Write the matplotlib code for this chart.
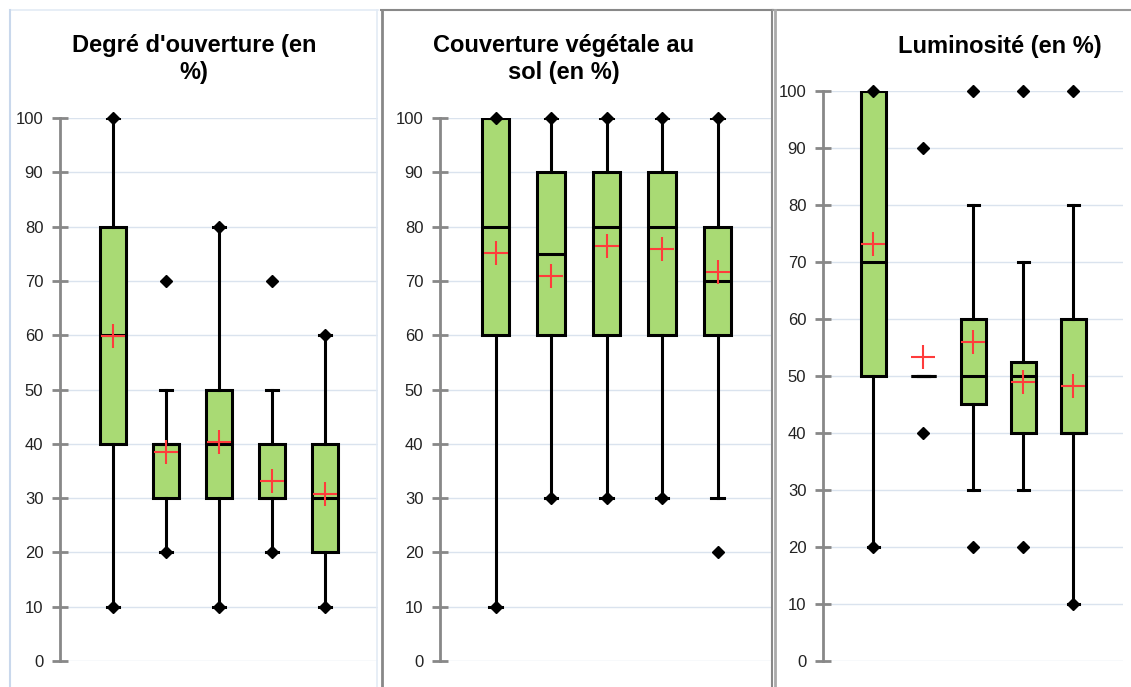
import matplotlib.pyplot as plt
from matplotlib.lines import Line2D

plt.rcParams['font.family'] = ['Liberation Sans', 'DejaVu Sans']

# stats per panel: min, q1, median, q3, max, mean, whisker low, whisker high
ouv_min = [10, 20, 10, 20, 10]
ouv_q1 = [40, 30, 30, 30, 20]
ouv_med = [60, 40, 40, 30, 30]
ouv_q3 = [80, 40, 50, 40, 40]
ouv_max = [100, 70, 80, 70, 60]
ouv_mean = [59.9, 38.4, 40.4, 33.2, 30.7]
ouv_wlo = [10, 20, 10, 20, 10]
ouv_whi = [100, 50, 80, 50, 60]

veg_min = [10, 30, 30, 30, 20]
veg_q1 = [60, 60, 60, 60, 60]
veg_med = [80, 75, 80, 80, 70]
veg_q3 = [100, 90, 90, 90, 80]
veg_max = [100, 100, 100, 100, 100]
veg_mean = [75.1, 70.9, 76.4, 75.9, 71.6]
veg_wlo = [10, 30, 30, 30, 30]
veg_whi = [100, 100, 100, 100, 100]

lum_min = [20, 40, 20, 20, 10]
lum_q1 = [50, 50, 45, 40, 40]
lum_med = [70, 50, 50, 50, 40]
lum_q3 = [100, 50, 60, 52.5, 60]
lum_max = [100, 90, 100, 100, 100]
lum_mean = [73.2, 53.4, 55.9, 48.9, 48.3]
lum_wlo = [20, 50, 30, 30, 10]
lum_whi = [100, 50, 80, 70, 80]

titles = ["Degré d'ouverture (en\n%)", "Couverture végétale au\nsol (en %)", "Luminosité (en %)"]
panels = [
    (ouv_min, ouv_q1, ouv_med, ouv_q3, ouv_max, ouv_mean, ouv_wlo, ouv_whi),
    (veg_min, veg_q1, veg_med, veg_q3, veg_max, veg_mean, veg_wlo, veg_whi),
    (lum_min, lum_q1, lum_med, lum_q3, lum_max, lum_mean, lum_wlo, lum_whi),
]

W, H = 1131, 687
fig = plt.figure(figsize=(W / 100, H / 100), dpi=100)

# axes rectangles in pixels: left, top (value 100), right, bottom (value 0)
rects = [(60, 118, 378, 661), (440, 118, 773, 661), (823, 91, 1123, 661)]
title_pos = [(194, 59), (564, 59), (1000, 46)]

for (mn, q1, md, q3, mx, mean, wlo, whi), rect, title, tp in zip(panels, rects, titles, title_pos):
    l, t, r, b = rect
    ax = fig.add_axes([l / W, (H - b) / H, (r - l) / W, (b - t) / H])
    stats = []
    for i in range(5):
        stats.append(dict(med=md[i], q1=q1[i], q3=q3[i], whislo=wlo[i], whishi=whi[i],
                          mean=mean[i], fliers=[mn[i], mx[i]]))
    parts = ax.bxp(stats, positions=range(1, 6), widths=0.5, capwidths=0.22,
                   patch_artist=True, showmeans=True,
                   boxprops=dict(facecolor='#a9da74', edgecolor='black', linewidth=2.2),
                   medianprops=dict(color='black', linewidth=2.2),
                   whiskerprops=dict(color='black', linewidth=2.2),
                   capprops=dict(color='black', linewidth=2.2),
                   flierprops=dict(marker='D', markerfacecolor='black', markeredgecolor='black',
                                   markersize=6),
                   meanprops=dict(marker='+', markeredgecolor='#ff3b3b', markersize=17,
                                  markeredgewidth=1.5))
    for fl in parts['fliers']:
        fl.set_clip_on(False)
        fl.set_zorder(5)
    for m in parts['means']:
        m.set_zorder(6)
    ax.set_xlim(0, 6)
    ax.set_ylim(0, 100)
    ax.set_yticks(range(0, 101, 10))
    ax.set_xticks([])
    ax.yaxis.grid(True, color='#dae3ee', linewidth=1)
    ax.set_axisbelow(True)
    for s in ['top', 'right', 'bottom']:
        ax.spines[s].set_visible(False)
    ax.spines['left'].set_color('#888888')
    ax.spines['left'].set_linewidth(2)
    ax.tick_params(axis='y', direction='inout', length=12, width=2, color='#888888',
                   labelsize=12, labelcolor='#222222', pad=6)
    ax.patch.set_alpha(0)
    fig.text(tp[0] / W, 1 - tp[1] / H, title, ha='center', va='center',
             fontsize=17, fontweight='bold', linespacing=1.2)

# panel borders
def vline(x, y0, y1, color, lw):
    fig.add_artist(Line2D([x / W, x / W], [1 - y0 / H, 1 - y1 / H], color=color, linewidth=lw))

def hline(x0, x1, y, color, lw):
    fig.add_artist(Line2D([x0 / W, x1 / W], [1 - y / H, 1 - y / H], color=color, linewidth=lw))

hline(10, 378, 10, '#e3ebf5', 1.2)
vline(10, 10, H, '#c9d8ec', 1.5)
vline(377, 10, H, '#e3ebf5', 1.2)
hline(381, 773, 10, '#888888', 1.5)
vline(381.5, 10, H, '#888888', 2)
vline(772, 10, H, '#888888', 1.5)
hline(773, W, 10, '#999999', 1.5)
vline(774.5, 10, H, '#aaaaaa', 2)

fig.savefig('out.png', dpi=100)
